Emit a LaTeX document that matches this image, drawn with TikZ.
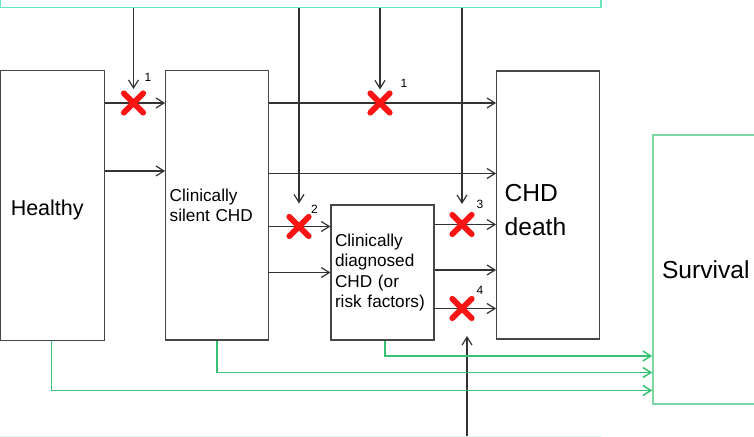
\documentclass[tikz,border=0pt]{standalone}
\usepackage{fontspec}
\setmainfont{Liberation Sans}
\usetikzlibrary{arrows.meta,shapes.misc}

\definecolor{boxgray}{RGB}{70,70,70}
\definecolor{aqua}{RGB}{102,230,190}
\definecolor{paleaqua}{RGB}{222,250,240}
\definecolor{survgreen}{RGB}{125,215,165}
\definecolor{flowgreen}{RGB}{55,195,115}
\definecolor{crossred}{RGB}{250,20,20}

\begin{document}
\begin{tikzpicture}[x=0.5pt, y=-0.5pt,
  box/.style={draw=boxgray, line width=0.6pt, align=left, inner ysep=0pt,
    font=\fontsize{8.6}{10.2}\selectfont},
  arr/.style={draw=black!80, line width=0.6pt, -{Straight Barb[length=4pt,width=5pt]}},
  flow/.style={draw=flowgreen, line width=0.75pt, -{Straight Barb[length=4pt,width=5pt]}},
  halt/.style={cross out, draw=crossred, line width=2.9pt, line cap=round,
    minimum size=6.8pt, inner sep=0pt},
  num/.style={font=\fontsize{6}{7}\selectfont, inner sep=0pt}]
  \useasboundingbox (0,0) rectangle (754,437);
  \clip (0,0) rectangle (754,437);

  % boxes
  \node[draw=aqua, line width=0.75pt, minimum width=300.25pt, minimum height=33.75pt,
    inner sep=0pt] (upper) at (300.75,-26.25) {};
  \node[draw=paleaqua, line width=0.75pt, minimum width=300.25pt, minimum height=33.75pt,
    inner sep=0pt] (lower) at (300.75,470.25) {};
  \node[box, minimum width=51.75pt, minimum height=135pt, text width=41.75pt,
    inner xsep=5pt, text height=11.8pt, font=\fontsize{10.75}{13}\selectfont]
    (healthy) at (52.5,205.5) {Healthy};
  \node[box, minimum width=51.3pt, minimum height=134.7pt, text width=47.3pt,
    inner xsep=2pt] (silent) at (217,205.4) {Clinically\\silent CHD};
  \node[box, minimum width=51.5pt, minimum height=67.5pt, text width=47.5pt,
    inner xsep=2pt] (diag) at (382.5,272.5) {Clinically\\diagnosed\\CHD (or\\risk factors)};
  \node[box, minimum width=51.3pt, minimum height=134pt, text width=43.3pt,
    inner xsep=4pt, text height=14pt, font=\fontsize{12.3}{17}\selectfont]
    (death) at (548,205) {CHD\\death};
  \node[box, draw=survgreen, line width=0.75pt, minimum width=100pt, minimum height=134.5pt,
    text width=91pt, inner xsep=4.5pt, font=\fontsize{12.3}{15}\selectfont]
    (survival) at (753,269.5) {Survival};

  % transitions
  \draw[arr] (healthy.east |- 0,103) -- (silent.west |- 0,103);
  \draw[arr] (healthy.east |- 0,171) -- (silent.west |- 0,171);
  \draw[arr] (silent.east |- 0,103) -- (death.west |- 0,103);
  \draw[arr] (silent.east |- 0,173.5) -- (death.west |- 0,173.5);
  \draw[arr] (silent.east |- 0,226.5) -- (diag.west |- 0,226.5);
  \draw[arr] (silent.east |- 0,272.5) -- (diag.west |- 0,272.5);
  \draw[arr] (diag.east |- 0,224.5) -- (death.west |- 0,224.5);
  \draw[arr] (diag.east |- 0,270) -- (death.west |- 0,270);
  \draw[arr] (diag.east |- 0,308.5) -- (death.west |- 0,308.5);

  % blocked transitions
  \node[halt] (x1) at (133.5,103) {};
  \node[halt] (x2) at (380,103) {};
  \node[halt] (x3) at (299,226.5) {};
  \node[halt] (x4) at (462,224.5) {};
  \node[halt] (x5) at (462,308.5) {};
  \coordinate (x5tip) at (467,336);

  \draw[arr] (upper.south -| x1) -- ([yshift=7pt]x1.center);
  \draw[arr] (upper.south -| x2) -- ([yshift=6.75pt]x2.center);
  \draw[arr] (upper.south -| x3) -- ([yshift=11.5pt]x3.center);
  \draw[arr] (upper.south -| x4) -- ([yshift=10.25pt]x4.center);
  \draw[arr] (lower.north -| x5tip) -- (x5tip);

  % to survival
  \draw[flow] (diag.south -| 385,0) |- (survival.west |- 0,356);
  \draw[flow] (silent.south -| 217,0) |- (survival.west |- 0,372.5);
  \draw[flow] (healthy.south -| 51.5,0) |- (survival.west |- 0,390.5);

  \node[num] (n1) at (148,77) {1};
  \node[num] (n2) at (404,83) {1};
  \node[num] (n3) at (314.5,209) {2};
  \node[num] (n4) at (480,204) {3};
  \node[num] (n5) at (480,290) {4};
\end{tikzpicture}
\end{document}
